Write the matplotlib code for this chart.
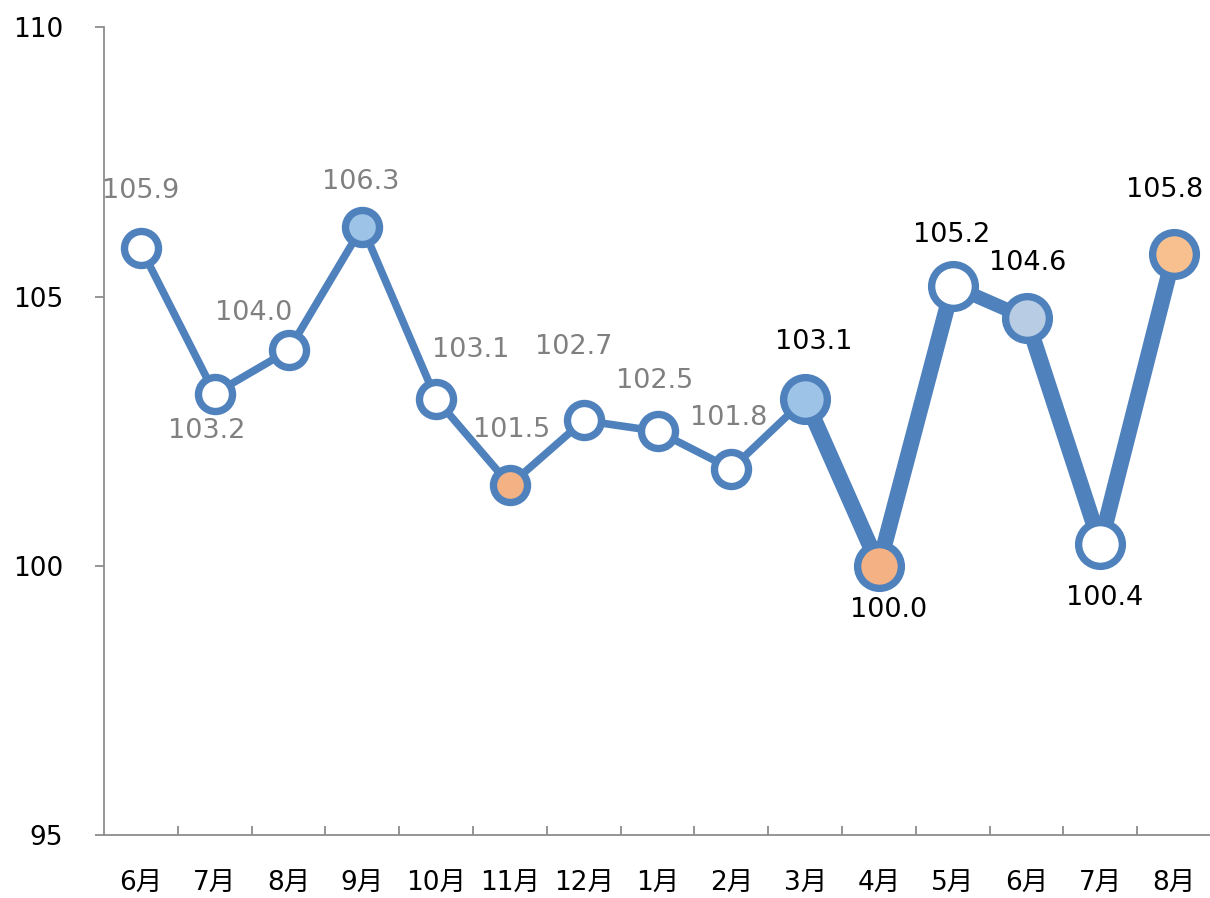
import matplotlib
matplotlib.use("Agg")
import matplotlib.pyplot as plt
import numpy as np

plt.rcParams['font.family'] = ['DejaVu Sans', 'Noto Sans CJK JP']

months = ["6月", "7月", "8月", "9月", "10月", "11月", "12月", "1月",
          "2月", "3月", "4月", "5月", "6月", "7月", "8月"]
values = [105.9, 103.2, 104.0, 106.3, 103.1, 101.5, 102.7, 102.5,
          101.8, 103.1, 100.0, 105.2, 104.6, 100.4, 105.8]

# styling per point / segment
fills = ["white", "white", "white", "#9DC3E6", "white", "#F4B183", "white", "white",
         "white", "#9DC3E6", "#F4B183", "white", "#B8CCE4", "white", "#F8C08F"]
seg_widths = [5.5] * 9 + [11.5, 11.5, 10, 11.5, 11.5]
marker_sizes = [24.5] * 9 + [31.5] * 6
label_colors = ["#808080"] * 9 + ["black"] * 6
# label offsets in points (dx, dy) from the marker
label_offsets = [(0, 41), (-6, -27), (-25, 27), (-1, 32), (25, 35), (1, 40),
                 (-7, 53), (-2, 36), (-2, 37), (6, 41), (7, -32), (-1, 37),
                 (1, 40), (3, -39), (-7, 46)]

blue = "#4F81BD"
axis_gray = "#8C8C8C"

fig = plt.figure(figsize=(12.1, 8.98), dpi=100)
ax = fig.add_axes([104 / 1210, 1 - 835 / 898, 1107 / 1210, (835 - 27.5) / 898])

x = np.arange(len(months))
for i in range(len(values) - 1):
    ax.plot(x[i:i + 2], values[i:i + 2], color=blue, lw=seg_widths[i],
            solid_capstyle="round", zorder=2)

for i, v in enumerate(values):
    ax.plot(x[i], v, "o", ms=marker_sizes[i], mfc=fills[i], mec=blue,
            mew=5.3, zorder=3)
    dx, dy = label_offsets[i]
    ax.annotate(f"{v:.1f}", (x[i], v), xytext=(dx, dy), textcoords="offset points",
                ha="center", va="center", fontsize=19.5, color=label_colors[i],
                zorder=4)

ax.set_xlim(-0.5, len(months) - 0.5)
ax.set_ylim(95, 110)
ax.set_yticks([95, 100, 105, 110])
ax.set_xticks(x)
ax.set_xticklabels(months)
ax.set_xticks(np.arange(0.5, len(months) - 0.5, 1), minor=True)

ax.tick_params(axis="x", which="major", length=0, pad=26, labelsize=19)
ax.tick_params(axis="x", which="minor", direction="in", length=6.5,
               width=1.3, color=axis_gray)
ax.tick_params(axis="y", direction="out", length=6.5, width=1.3,
               color=axis_gray, pad=23, labelsize=19)

for side in ["top", "right"]:
    ax.spines[side].set_visible(False)
for side in ["left", "bottom"]:
    ax.spines[side].set_color(axis_gray)
    ax.spines[side].set_linewidth(1.3)

fig.savefig("out.png", dpi=100)
